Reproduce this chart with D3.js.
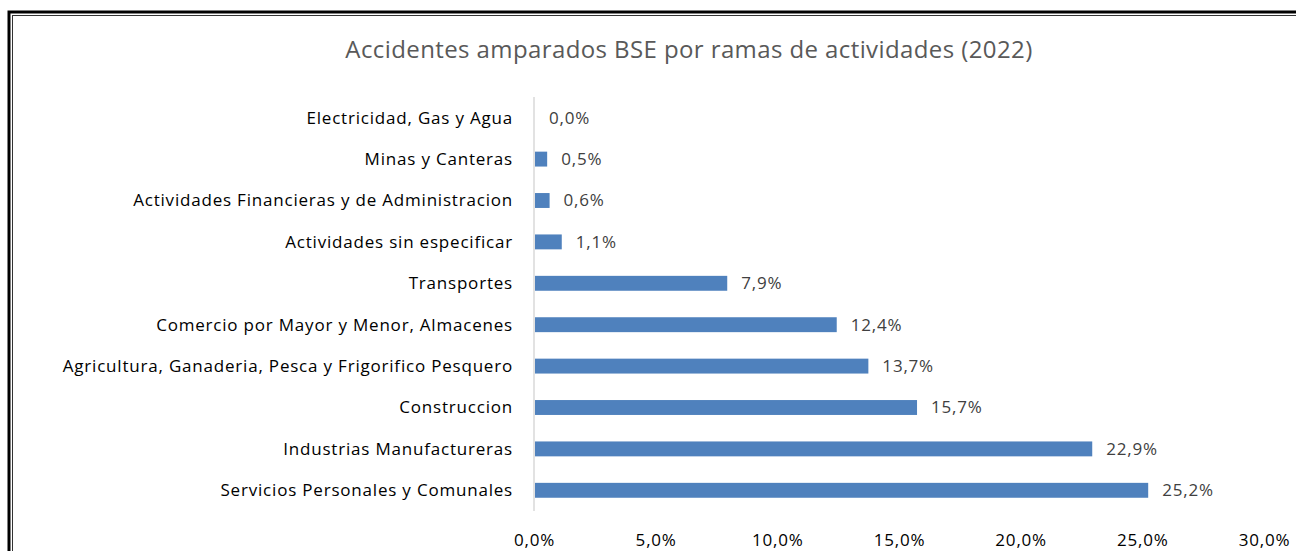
<!DOCTYPE html>
<html>
<head>
<meta charset="utf-8">
<title>Accidentes BSE</title>
<script src="https://d3js.org/d3.v7.min.js"></script>
<style>
  body { margin: 0; background: #fff; }
  svg { display: block; }
</style>
</head>
<body>
<svg width="1296" height="551"></svg>
<script>
const categories = [
  "Electricidad, Gas y Agua",
  "Minas y Canteras",
  "Actividades Financieras y de Administracion",
  "Actividades sin especificar",
  "Transportes",
  "Comercio por Mayor y Menor, Almacenes",
  "Agricultura, Ganaderia, Pesca y Frigorifico Pesquero",
  "Construccion",
  "Industrias Manufactureras",
  "Servicios Personales y Comunales"
];
const values = [0.0, 0.5, 0.6, 1.1, 7.9, 12.4, 13.7, 15.7, 22.9, 25.2];
const xTicks = [0, 5, 10, 15, 20, 25, 30];
const title = "Accidentes amparados BSE por ramas de actividades (2022)";

const font = "'Open Sans', sans-serif";
const fmt = v => v.toFixed(1).replace(".", ",") + "%";

const svg = d3.select("svg");

// double frame (cut at right/bottom like the screenshot)
svg.append("rect").attr("x", 9).attr("y", 12).attr("width", 1400).attr("height", 600)
  .attr("fill", "none").attr("stroke", "#000").attr("stroke-width", 3);
svg.append("rect").attr("x", 12.5).attr("y", 15.5).attr("width", 1400).attr("height", 600)
  .attr("fill", "none").attr("stroke", "#333").attr("stroke-width", 1);

const x = d3.scaleLinear().domain([0, 30]).range([534, 1264]);
const y = d3.scaleBand().domain(categories).range([97, 511]).paddingInner(0.64).paddingOuter(0.32);

svg.append("text")
  .attr("x", 689).attr("y", 58)
  .attr("text-anchor", "middle")
  .attr("font-family", font).attr("font-size", 24)
  .attr("letter-spacing", 0.4)
  .attr("fill", "#595959")
  .text(title);

// vertical axis line
svg.append("line")
  .attr("x1", x(0)).attr("x2", x(0))
  .attr("y1", 97).attr("y2", 511)
  .attr("stroke", "#d9d9d9").attr("stroke-width", 1.5);

svg.selectAll("rect.bar").data(values).enter().append("rect")
  .attr("class", "bar")
  .attr("x", x(0) + 1)
  .attr("y", (d, i) => y(categories[i]))
  .attr("width", d => Math.max(0, x(d) - x(0)))
  .attr("height", y.bandwidth())
  .attr("fill", d => d > 0 ? "#4f81bd" : "none");

svg.selectAll("text.val").data(values).enter().append("text")
  .attr("class", "val")
  .attr("x", d => x(d) + 15)
  .attr("y", (d, i) => y(categories[i]) + y.bandwidth() / 2)
  .attr("dy", "0.35em")
  .attr("font-family", font).attr("font-size", 17)
  .attr("letter-spacing", 0.8)
  .attr("fill", "#404040")
  .text(fmt);

svg.selectAll("text.cat").data(categories).enter().append("text")
  .attr("class", "cat")
  .attr("x", 513)
  .attr("y", d => y(d) + y.bandwidth() / 2)
  .attr("dy", "0.35em")
  .attr("text-anchor", "end")
  .attr("font-family", font).attr("font-size", 17)
  .attr("letter-spacing", 0.8)
  .attr("fill", "#000")
  .text(d => d);

const axis = d3.axisBottom(x).tickValues(xTicks).tickFormat(fmt).tickSize(0).tickPadding(0);
const ag = svg.append("g").attr("transform", "translate(0,540)").call(axis);
ag.select(".domain").remove();
ag.selectAll("text")
  .attr("font-family", font).attr("font-size", 17)
  .attr("letter-spacing", 0.8)
  .attr("fill", "#000").attr("dy", "0.35em");
</script>
</body>
</html>
